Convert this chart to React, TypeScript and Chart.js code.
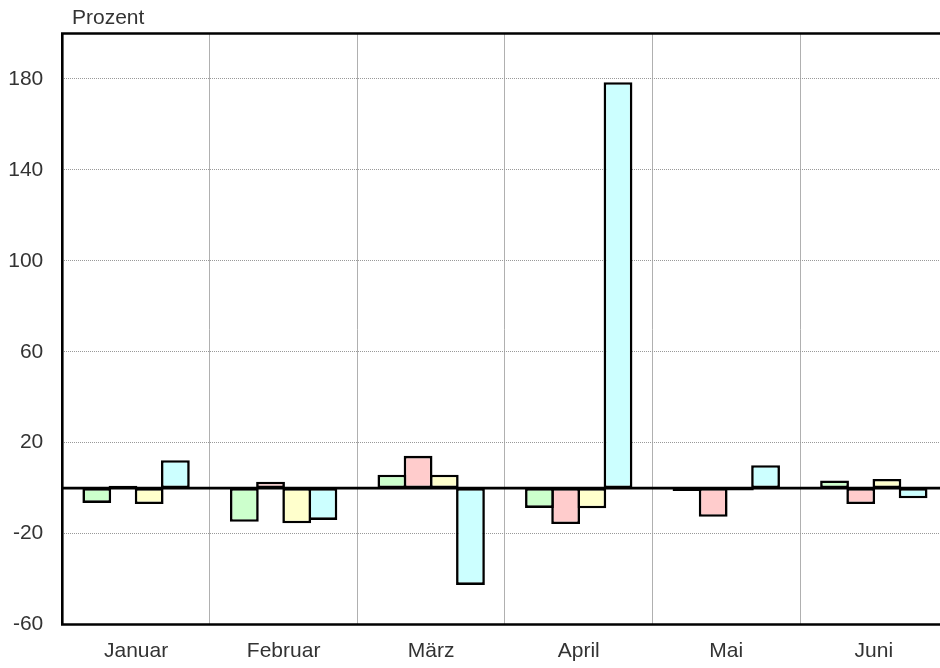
import React, { useEffect, useRef } from "react";
import { Chart, registerables } from "chart.js";

Chart.register(...registerables);

const categories = ["Januar", "Februar", "März", "April", "Mai", "Juni"];
const seriesGreen = [-6.5, -14.8, 5.9, -8.7, -1.3, 3.4];
const seriesRed = [1.0, 2.8, 14.2, -15.8, -12.6, -7.0];
const seriesYellow = [-7.0, -15.5, 5.9, -8.9, -1.0, 4.0];
const seriesCyan = [12.3, -14.0, -42.6, 178.6, 10.1, -4.5];
const yTickValues = [-60, -20, 20, 60, 100, 140, 180];
const yMin = -60;
const yMax = 200;
const axisTitle = "Prozent";

const FONT = "'Liberation Sans', Arial, sans-serif";

export default function App() {
  const ref = useRef<HTMLCanvasElement | null>(null);

  useEffect(() => {
    const canvas = ref.current;
    if (!canvas) return;

    const framePlugin = {
      id: "frame",
      afterDatasetsDraw(chart: any) {
        const { ctx, chartArea, scales } = chart;
        const y0 = scales.y.getPixelForValue(0);
        ctx.save();
        ctx.strokeStyle = "#000";
        ctx.lineWidth = 2.6;
        ctx.beginPath();
        ctx.moveTo(chartArea.left, y0);
        ctx.lineTo(chartArea.right, y0);
        ctx.stroke();
        ctx.beginPath();
        ctx.moveTo(chartArea.right + 2, chartArea.top);
        ctx.lineTo(chartArea.left, chartArea.top);
        ctx.lineTo(chartArea.left, chartArea.bottom);
        ctx.lineTo(chartArea.right + 2, chartArea.bottom);
        ctx.stroke();
        ctx.restore();
      },
      afterDraw(chart: any) {
        const { ctx } = chart;
        ctx.save();
        ctx.fillStyle = "#333";
        ctx.font = `21px ${FONT}`;
        ctx.textBaseline = "alphabetic";
        ctx.textAlign = "left";
        ctx.fillText(axisTitle, 72, 23.5);
        ctx.restore();
      },
    };

    const mk = (label: string, data: number[], color: string) => ({
      label,
      data,
      backgroundColor: color,
      borderColor: "#000",
      borderWidth: 2.6,
      borderSkipped: false,
      categoryPercentage: 0.71,
      barPercentage: 1.1,
    });

    const chart = new Chart(canvas, {
      type: "bar",
      data: {
        labels: categories,
        datasets: [
          mk("A", seriesGreen, "#ccffcc"),
          mk("B", seriesRed, "#ffcccc"),
          mk("C", seriesYellow, "#ffffcc"),
          mk("D", seriesCyan, "#ccffff"),
        ],
      },
      options: {
        animation: false,
        responsive: false,
        maintainAspectRatio: false,
        layout: { padding: { left: 0, right: 12.4, top: 33.5, bottom: 0 } },
        plugins: {
          legend: { display: false },
          tooltip: { enabled: false },
          title: { display: false },
        },
        scales: {
          x: {
            grid: {
              display: true,
              offset: true,
              color: "#b0b0b0",
              lineWidth: 1,
              drawTicks: false,
            },
            border: { display: false },
            ticks: {
              color: "#333",
              font: { family: FONT, size: 21 },
              padding: 14,
              maxRotation: 0,
            },
            afterFit(scale: any) {
              scale.height = 43.5;
            },
          },
          y: {
            min: yMin,
            max: yMax,
            grid: {
              color: "#999999",
              lineWidth: 1,
              drawTicks: false,
            },
            border: { display: false, dash: [1, 1] },
            ticks: {
              color: "#333",
              font: { family: FONT, size: 21 },
              padding: 19,
            },
            afterBuildTicks(scale: any) {
              scale.ticks = yTickValues.map((v) => ({ value: v }));
            },
            afterFit(scale: any) {
              scale.width = 62.3;
            },
          },
        },
      },
      plugins: [framePlugin],
    });

    return () => chart.destroy();
  }, []);

  return (
    <div
      style={{
        position: "fixed",
        left: 0,
        top: 0,
        width: 940,
        height: 668,
        overflow: "hidden",
        background: "#fff",
      }}
    >
      <canvas ref={ref} width={960} height={668} style={{ width: 960, height: 668, display: "block" }} />
    </div>
  );
}
